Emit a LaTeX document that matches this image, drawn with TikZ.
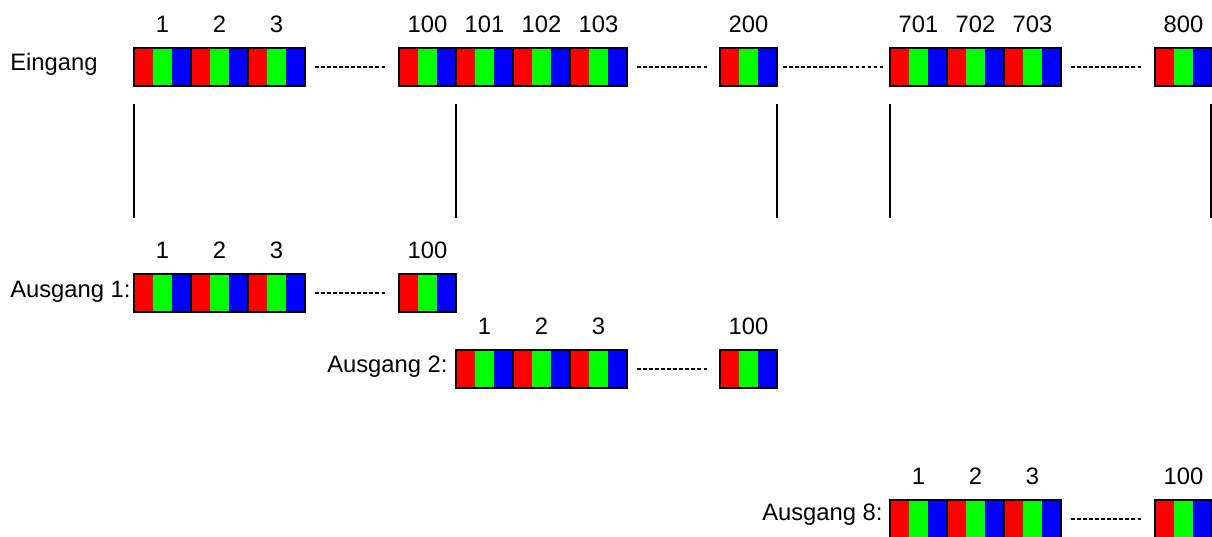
\documentclass[tikz,border=0pt]{standalone}
\usepackage{fontspec}
\setmainfont{Liberation Sans}
\tikzset{
  pixel/.style={draw, line width=1.2pt, minimum width=1.425cm, minimum height=0.95cm,
    inner sep=0pt, outer sep=0pt, anchor=north west,
    path picture={
      \fill[red] (path picture bounding box.south west) rectangle ([xshift=0.475cm]path picture bounding box.north west);
      \fill[green] ([xshift=0.475cm]path picture bounding box.south west) rectangle ([xshift=0.95cm]path picture bounding box.north west);
      \fill[blue] ([xshift=0.95cm]path picture bounding box.south west) rectangle (path picture bounding box.north east);
    }},
  num/.style={font=\fontsize{16.9}{20}\selectfont, inner sep=0pt},
  txt/.style={font=\fontsize{16.9}{20}\selectfont, inner sep=0pt, anchor=base west},
  dotline/.style={line width=1pt, dash pattern=on 2.5pt off 1.8pt, shorten <=0.25cm, shorten >=0.29cm},
  sep/.style={line width=1.3pt}
}
\begin{document}
\begin{tikzpicture}[x=0.025cm, y=-0.025cm, label distance=0.38cm]
  \useasboundingbox (0,0) rectangle (1212,537);
  % Eingang
  \node[txt] (in) at (10,70.7) {Eingang};
  \foreach \nm/\x in {1/134,2/191,3/248,100/399,101/456,102/513,103/570,200/720,701/890,702/947,703/1004,800/1155}
    \node[pixel, label={[num]above:\nm}] (in-\nm) at (\x,48) {};
  \draw[dotline] (in-3.east) -- (in-100.west);
  \draw[dotline] (in-103.east) -- (in-200.west);
  \draw[dotline, shorten <=0.15cm, shorten >=0.17cm] (in-200.east) -- (in-701.west);
  \draw[dotline] (in-703.east) -- (in-800.west);
  % Trennlinien
  \draw[sep] (in-1.south west) ++(0,18) -- ++(0,114);
  \draw[sep] (in-100.south east) ++(0,18) -- ++(0,114);
  \draw[sep] (in-200.south east) ++(0,18) -- ++(0,114);
  \draw[sep] (in-701.south west) ++(0,18) -- ++(0,114);
  \draw[sep] ([xshift=-0.5pt]in-800.south east) ++(0,18) -- ++(0,114);
  % Ausgang 1
  \node[txt] (out1) at (10,298) {Ausgang 1:};
  \foreach \nm/\x in {1/134,2/191,3/248,100/399}
    \node[pixel, label={[num]above:\nm}] (out1-\nm) at (\x,274) {};
  \draw[dotline] (out1-3.east) -- (out1-100.west);
  % Ausgang 2
  \node[txt] (out2) at (327,373) {Ausgang 2:};
  \foreach \nm/\x in {1/456,2/513,3/570,100/720}
    \node[pixel, label={[num]above:\nm}] (out2-\nm) at (\x,350) {};
  \draw[dotline] (out2-3.east) -- (out2-100.west);
  % Ausgang 8
  \node[txt] (out8) at (762,521) {Ausgang 8:};
  \foreach \nm/\x in {1/890,2/947,3/1004,100/1155}
    \node[pixel, label={[num]above:\nm}] (out8-\nm) at (\x,500) {};
  \draw[dotline] (out8-3.east) -- (out8-100.west);
\end{tikzpicture}
\end{document}
